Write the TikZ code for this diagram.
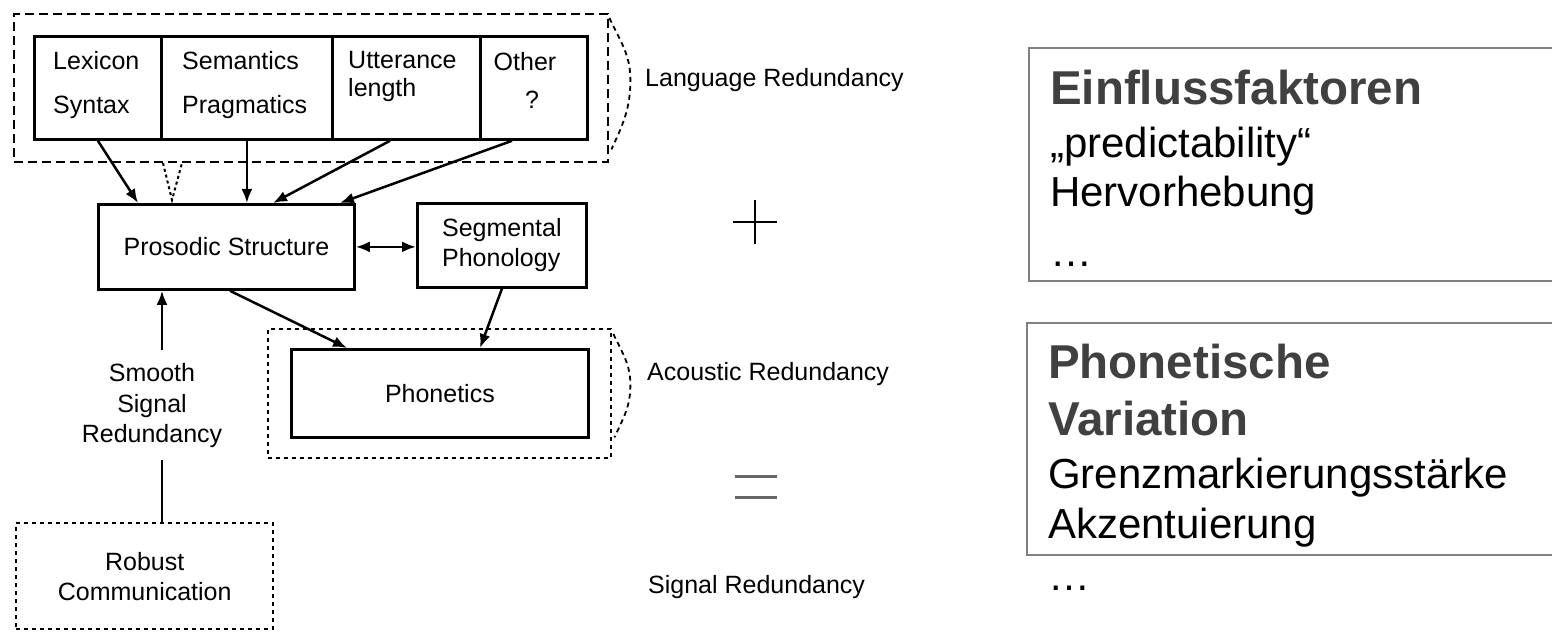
\documentclass[tikz,border=0pt]{standalone}
\usepackage{fontspec}
\setmainfont{Liberation Sans}
\usetikzlibrary{arrows.meta,calc}
\begin{document}
\begin{tikzpicture}[x=1pt,y=-1pt,
  lf/.style={font=\fontsize{25}{30}\selectfont},
  box/.style={draw, line width=2.8pt, inner sep=0pt, anchor=north west, lf},
  lbl/.style={lf, inner sep=0pt, text height=18pt, text depth=5pt},
  tip/.style={},
  arr/.style={line width=2.5pt, -{Latex[length=14pt,width=11pt]}},
  dsh/.style={draw, line width=2.4pt, dash pattern=on 9pt off 5pt, inner sep=0pt, anchor=north west},
  dotb/.style={draw, line width=2.4pt, dash pattern=on 4pt off 4pt, inner sep=0pt, anchor=north west},
  brace/.style={line width=1.8pt, dash pattern=on 5pt off 4pt},
  rbox/.style={draw=black!50, line width=2pt, inner sep=0pt, anchor=north west},
  head/.style={font=\fontsize{47.5}{57}\selectfont\bfseries, text=black!75, inner sep=0pt, anchor=base west},
  body/.style={font=\fontsize{42}{50}\selectfont, inner sep=0pt, anchor=base west},
]
\useasboundingbox (0,0) rectangle (1552,636);

% language redundancy group
\node[dsh, minimum width=594, minimum height=148] (lang) at (13,13) {};
\node[box, minimum width=127, minimum height=103] (lex) at (33,35) {};
\node[box, minimum width=171, minimum height=103] (sem) at (160,35) {};
\node[box, minimum width=148, minimum height=103] (utt) at (331,35) {};
\node[box, minimum width=107, minimum height=103] (oth) at (479,35) {};
\node[lbl, anchor=west] (tlex) at (53,63) {Lexicon};
\node[lbl, anchor=west] (tsyn) at (53,107) {Syntax};
\node[lbl, anchor=west] (tsem) at (182,63) {Semantics};
\node[lbl, anchor=west] (tpra) at (182,107) {Pragmatics};
\node[lbl, anchor=west] (tutt) at (348,62) {Utterance};
\node[lbl, anchor=west] (tlen) at (348,90) {length};
\node[lbl] (toth) at (525,64) {Other};
\node[lbl] (tq) at (532,102) {?};
\draw[brace] ($(lang.north east)+(0,5)$) to[out=-65,in=90] ($(lang.north east)+(21,67)$) to[out=-90,in=65] ($(lang.south east)+(2,-14)$);
\node[lbl, anchor=west] (langlbl) at (645,80) {Language Redundancy};

% middle
\node[box, minimum width=256, minimum height=85] (pros) at (97,203) {Prosodic Structure};
\node[box, align=left, minimum width=169, minimum height=84] (seg) at (416,202) {Segmental\\Phonology};
\node[dotb, minimum width=343, minimum height=129] (acou) at (267,328) {};
\node[box, minimum width=297, minimum height=88] (phon) at (290,348) {Phonetics};
\draw[brace] ($(acou.north east)+(1,6)$) to[out=-65,in=90] ($(acou.north east)+(18,57)$) to[out=-90,in=65] ($(acou.south east)+(2,-22)$);
\node[lbl, anchor=west] (aclbl) at (647,374) {Acoustic Redundancy};

% arrows from the language factors
\draw[arr] (lex.south) -- ($(pros.north west)+(41,0)$);
\draw[arr] (sem.south) -- (sem.south |- pros.north);
\draw[arr] ($(utt.south west)+(59,0)$) -- ($(pros.north west)+(176,0)$);
\draw[arr] ($(oth.south west)+(33,0)$) -- ($(pros.north west)+(243,0)$);
\coordinate (vtip) at (172,200);
\draw[line width=2pt, dash pattern=on 3pt off 3pt] ($(vtip)+(-9,-37)$) -- (vtip) -- ($(vtip)+(10,-37)$);

\draw[line width=2.5pt, {Latex[length=14pt,width=11pt]}-{Latex[length=14pt,width=11pt]}] (pros.east) -- (pros.east -| seg.west);
\draw[arr] ($(pros.south west)+(133,0)$) -- ($(phon.north west)+(57,0)$);
\draw[arr] (seg.south) -- ($(phon.north west)+(190,0)$);

% left column
\node[lf, align=center, inner sep=0pt, font=\fontsize{25}{30.5}\selectfont] (smooth) at (152,406) {Smooth\\Signal\\Redundancy};
\node[dotb, lf, align=center, minimum width=257, minimum height=106] (rob) at (15,522) {Robust\\Communication};
\coordinate (smtop) at (162,350);
\coordinate (smbot) at (162,460);
\draw[arr] (smtop) -- (smtop |- pros.south);
\draw[line width=2.5pt] (smbot) -- (smbot |- rob.north);

% plus, equals, signal redundancy
\coordinate (plus) at (755,222);
\draw[line width=2pt] ($(plus)+(-22,0)$) -- ($(plus)+(22,0)$) ($(plus)+(0,-22)$) -- ($(plus)+(0,22)$);
\coordinate (eq) at (756,486);
\draw[line width=3pt, black!60] ($(eq)+(-21,-10)$) -- ($(eq)+(21,-10)$) ($(eq)+(-21,11)$) -- ($(eq)+(21,11)$);
\node[lbl, anchor=west] (siglbl) at (648,587) {Signal Redundancy};

% right text boxes
\node[rbox, minimum width=535, minimum height=233] (einf) at (1028,47) {};
\node[head] (einfh) at (1050,105) {Einflussfaktoren};
\node[body] (pred) at (1050,158) {„predictability“};
\node[body] (herv) at (1050,207) {Hervorhebung};
\node[body] (dots1) at (1050,267) {…};
\node[rbox, minimum width=537, minimum height=232] (phv) at (1026,322) {};
\node[head] (phvh1) at (1048,378) {Phonetische};
\node[head] (phvh2) at (1048,435) {Variation};
\node[body] (grenz) at (1048,488) {Grenzmarkierungsstärke};
\node[body] (akz) at (1048,538) {Akzentuierung};
\node[body] (dots2) at (1048,590) {…};
\end{tikzpicture}
\end{document}
